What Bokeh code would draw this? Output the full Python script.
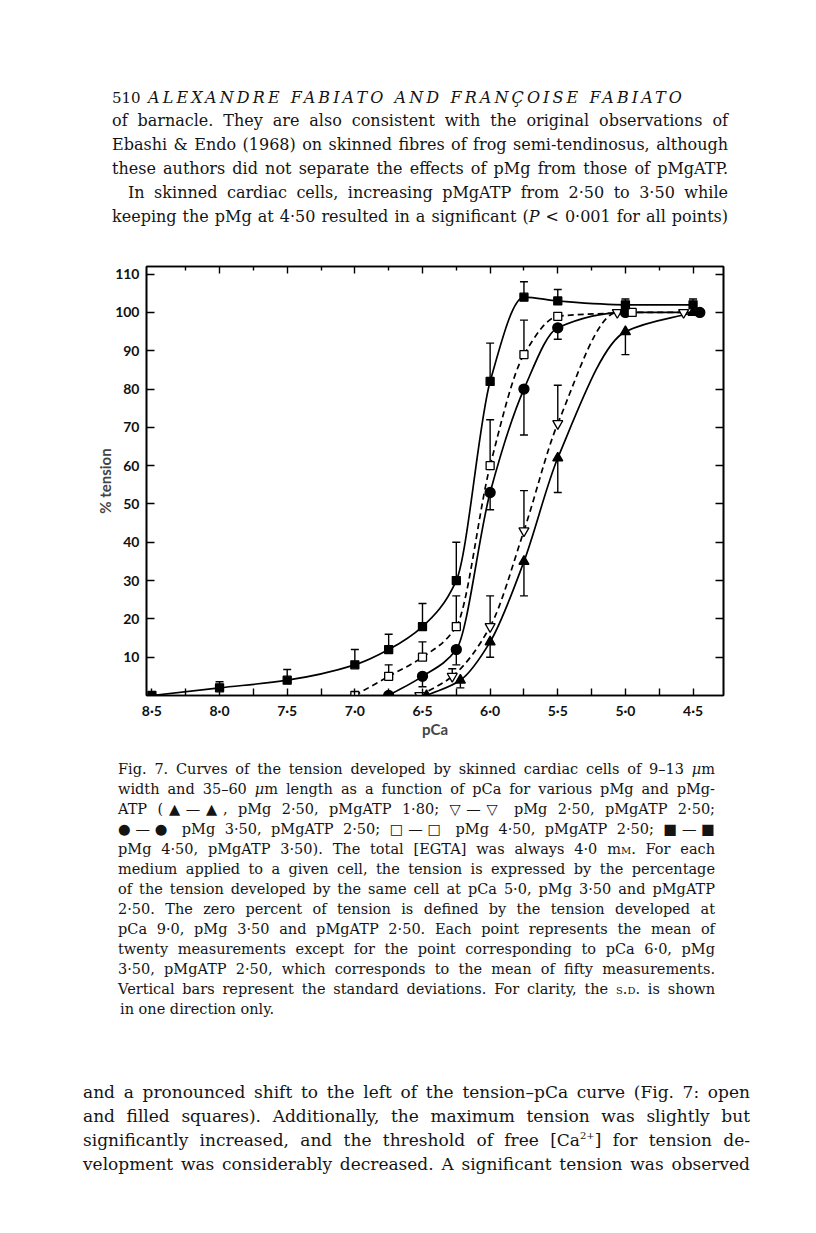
import numpy as np
from bokeh.plotting import figure
from bokeh.models import Range1d, FixedTicker, LinearAxis, CustomJSTickFormatter, Div
from bokeh.layouts import column
from bokeh.embed import file_html
from bokeh.resources import INLINE

nan = float("nan")

# ---------------- data ----------------
# filled triangles: pMg 2.50, pMgATP 1.80  (SD shown downward)
ftri_pca = [6.47, 6.22, 6.0, 5.75, 5.5, 5.0, 4.5]
ftri_t   = [0, 4, 14, 35, 62, 95, 100]
ftri_err = [nan, 2, 10, 26, 53, 89, nan]

# open inverted triangles: pMg 2.50, pMgATP 2.50  (SD upward)
otri_pca = [6.52, 6.28, 6.0, 5.75, 5.5, 5.06, 4.57]
otri_t   = [0, 5, 18, 43, 71, 100, 100]
otri_err = [nan, 7, 26, 53.5, 81, nan, nan]

# filled circles: pMg 3.50, pMgATP 2.50  (SD downward)
fcir_pca = [6.75, 6.5, 6.25, 6.0, 5.75, 5.5, 5.0, 4.45]
fcir_t   = [0, 5, 12, 53, 80, 96, 100, 100]
fcir_err = [nan, 2.3, 8, 48.5, 68, 93, nan, nan]

# open squares: pMg 4.50, pMgATP 2.50  (SD upward)
osq_pca = [7.0, 6.75, 6.5, 6.25, 6.0, 5.75, 5.5, 4.95]
osq_t   = [0, 5, 10, 18, 60, 89, 99, 100]
osq_err = [nan, 8, 14, 26, 72, 98, nan, nan]

# filled squares: pMg 4.50, pMgATP 3.50  (SD upward)
fsq_pca = [8.5, 8.0, 7.5, 7.0, 6.75, 6.5, 6.25, 6.0, 5.75, 5.5, 5.0, 4.5]
fsq_t   = [0, 2, 4, 8, 12, 18, 30, 82, 104, 103, 102, 102]
fsq_err = [nan, 3.6, 6.8, 12, 16, 24, 40, 92, 108, 106, 103.5, 103.5]

x_tick_values = [8.5, 8.0, 7.5, 7.0, 6.5, 6.0, 5.5, 5.0, 4.5]
x_tick_labels = ["8·5", "8·0", "7·5", "7·0", "6·5", "6·0", "5·5", "5·0", "4·5"]
x_minor_values = [8.25, 7.75, 7.25, 6.75, 6.25, 5.75, 5.25, 4.75]
y_tick_values = [10, 20, 30, 40, 50, 60, 70, 80, 90, 100, 110]
y_tick_labels = ["10", "20", "30", "40", "50", "60", "70", "80", "90", "100", "110"]

# ---------------- helpers ----------------
def pchip_bezier(xs, ys):
    x = np.asarray(xs, float)
    y = np.asarray(ys, float)
    h = np.diff(x)
    d = np.diff(y) / h
    n = len(x)
    m = np.zeros(n)
    m[0] = d[0]
    m[-1] = d[-1]
    for k in range(1, n - 1):
        if d[k - 1] * d[k] <= 0:
            m[k] = 0.0
        else:
            w1 = 2 * abs(h[k]) + abs(h[k - 1])
            w2 = abs(h[k]) + 2 * abs(h[k - 1])
            m[k] = (w1 + w2) / (w1 / d[k - 1] + w2 / d[k])
    return dict(x0=x[:-1], y0=y[:-1], x1=x[1:], y1=y[1:],
                cx0=x[:-1] + h / 3, cy0=y[:-1] + m[:-1] * h / 3,
                cx1=x[1:] - h / 3, cy1=y[1:] - m[1:] * h / 3)

def err_segments(xs, ys, es):
    xx, y0, y1 = [], [], []
    for a, b, c in zip(xs, ys, es):
        if not np.isnan(c):
            xx.append(a); y0.append(b); y1.append(c)
    return xx, y0, y1

# ---------------- figure ----------------
p = figure(x_range=Range1d(8.54, 4.275), y_range=Range1d(0, 112),
           frame_width=577, frame_height=429,
           min_border_left=146, min_border_right=77,
           min_border_top=18, min_border_bottom=53,
           output_backend="svg", toolbar_location=None,
           background_fill_color="white", border_fill_color="white")
p.outline_line_color = "black"
p.outline_line_width = 1.6
p.xgrid.visible = False
p.ygrid.visible = False

tick_font = "Lato"
# bottom axis
p.xaxis.ticker = FixedTicker(ticks=x_tick_values, minor_ticks=x_minor_values)
p.xaxis.major_label_overrides = dict(zip(x_tick_values, x_tick_labels))
p.xaxis.major_tick_in = 7
p.xaxis.major_tick_out = 0
p.xaxis.minor_tick_in = 7
p.xaxis.minor_tick_out = 0
p.xaxis.axis_line_width = 1.6
p.xaxis.major_tick_line_width = 1.4
p.xaxis.minor_tick_line_width = 1.4
p.xaxis.major_label_standoff = 6
p.xaxis.major_label_text_font = tick_font
p.xaxis.major_label_text_font_style = "bold"
p.xaxis.major_label_text_font_size = "14px"
p.xaxis.major_label_text_color = "#111111"
p.xaxis.axis_label = "pCa"
p.xaxis.axis_label_text_font = tick_font
p.xaxis.axis_label_text_font_style = "bold"
p.xaxis.axis_label_text_font_size = "15px"
p.xaxis.axis_label_standoff = -2

# left axis
p.yaxis.ticker = FixedTicker(ticks=y_tick_values)
p.yaxis.major_label_overrides = dict(zip(y_tick_values, y_tick_labels))
p.yaxis.major_tick_in = 8
p.yaxis.major_tick_out = 0
p.yaxis.minor_tick_in = 0
p.yaxis.minor_tick_out = 0
p.yaxis.axis_line_width = 1.6
p.yaxis.major_tick_line_width = 1.4
p.yaxis.major_label_standoff = 7
p.yaxis.major_label_text_font = tick_font
p.yaxis.major_label_text_font_style = "bold"
p.yaxis.major_label_text_font_size = "14px"
p.yaxis.major_label_text_color = "#111111"
p.yaxis.axis_label = "% tension"
p.yaxis.axis_label_text_font = tick_font
p.yaxis.axis_label_text_font_style = "bold"
p.yaxis.axis_label_text_font_size = "15px"
p.yaxis.axis_label_standoff = -2

blank = CustomJSTickFormatter(code="return '';")
right_axis = LinearAxis(ticker=FixedTicker(ticks=y_tick_values), formatter=blank,
                        major_tick_in=8, major_tick_out=0, minor_tick_in=0, minor_tick_out=0,
                        axis_line_width=1.6, major_tick_line_width=1.4)
p.add_layout(right_axis, "right")
top_axis = LinearAxis(ticker=FixedTicker(ticks=x_tick_values[1:], minor_ticks=x_minor_values),
                      formatter=blank, major_tick_in=7, major_tick_out=0,
                      minor_tick_in=4, minor_tick_out=0,
                      axis_line_width=1.6, major_tick_line_width=1.4, minor_tick_line_width=1.4)
p.add_layout(top_axis, "above")

series = [
    (ftri_pca, ftri_t, ftri_err, None, "triangle", "black", 10),
    (otri_pca, otri_t, otri_err, "6 4", "inverted_triangle", "white", 10),
    (fcir_pca, fcir_t, fcir_err, None, "circle", "black", 10),
    (osq_pca, osq_t, osq_err, "6 4", "square", "white", 8),
    (fsq_pca, fsq_t, fsq_err, None, "square", "black", 8),
]

# curves
for xs, ys, es, dash, mk, fill, sz in series:
    b = pchip_bezier(xs, ys)
    kw = dict(line_color="black", line_width=1.7)
    if dash:
        kw["line_dash"] = dash
    p.bezier(x0=b["x0"], y0=b["y0"], x1=b["x1"], y1=b["y1"],
             cx0=b["cx0"], cy0=b["cy0"], cx1=b["cx1"], cy1=b["cy1"], **kw)

# error bars
for xs, ys, es, dash, mk, fill, sz in series:
    ex, ey0, ey1 = err_segments(xs, ys, es)
    p.segment(x0=ex, y0=ey0, x1=ex, y1=ey1, line_color="black", line_width=1.4)
    p.scatter(x=ex, y=ey1, marker="dash", size=8, line_color="black", line_width=1.4)

# markers
for xs, ys, es, dash, mk, fill, sz in series:
    p.scatter(x=xs, y=ys, marker=mk, size=sz, fill_color=fill,
              line_color="black", line_width=1.3)

# ---------------- text blocks ----------------
def line(text, left, top, width, size, lh, justify=True, extra=""):
    ta = ("text-align:justify;text-align-last:justify;text-justify:inter-word;"
          if justify else "text-align:left;")
    return (f'<div style="position:absolute;left:{left}px;top:{top}px;width:{width}px;'
            f'font-size:{size}px;line-height:{lh}px;{ta}{extra}">{text}</div>')

SERIF = "font-family:'DejaVu Serif',serif;color:#141414;"
sc = lambda t: f'<span style="font-variant:small-caps">{t}</span>'

top_html = [f'<div style="position:relative;width:800px;height:238px;{SERIF}">']
top_html.append(line("510", 107, 81, 40, 15, 24, justify=False))
top_html.append(line("<i>ALEXANDRE FABIATO AND FRANÇOISE FABIATO</i>", 143, 81, 560, 16, 24,
                     justify=False, extra="letter-spacing:3.1px;white-space:nowrap;"))
body_top = [
    ("of barnacle. They are also consistent with the original observations of", 107, 616),
    ("Ebashi &amp; Endo (1968) on skinned fibres of frog semi-tendinosus, although", 107, 616),
    ("these authors did not separate the effects of pMg from those of pMgATP.", 107, 616),
    ("In skinned cardiac cells, increasing pMgATP from 2·50 to 3·50 while", 123, 600),
    ("keeping the pMg at 4·50 resulted in a significant (<i>P</i> &lt; 0·001 for all points)", 107, 616),
]
for i, (t, l, w) in enumerate(body_top):
    top_html.append(line(t, l, 104 + 24 * i, w, 16, 24))
top_html.append("</div>")
top_div = Div(text="".join(top_html), width=800, height=238)

cap = [
    "Fig. 7. Curves of the tension developed by skinned cardiac cells of 9–13 <i>μ</i>m",
    "width and 35–60 <i>μ</i>m length as a function of pCa for various pMg and pMg-",
    "ATP (▲—▲, pMg 2·50, pMgATP 1·80; ▽—▽ pMg 2·50, pMgATP 2·50;",
    "●—● pMg 3·50, pMgATP 2·50; □—□ pMg 4·50, pMgATP 2·50; ■—■",
    "pMg 4·50, pMgATP 3·50). The total [EGTA] was always 4·0 m" + sc("m") + ". For each",
    "medium applied to a given cell, the tension is expressed by the percentage",
    "of the tension developed by the same cell at pCa 5·0, pMg 3·50 and pMgATP",
    "2·50. The zero percent of tension is defined by the tension developed at",
    "pCa 9·0, pMg 3·50 and pMgATP 2·50. Each point represents the mean of",
    "twenty measurements except for the point corresponding to pCa 6·0, pMg",
    "3·50, pMgATP 2·50, which corresponds to the mean of fifty measurements.",
    "Vertical bars represent the standard deviations. For clarity, the " + sc("s.d.") + " is shown",
]
bot_html = [f'<div style="position:relative;width:800px;height:477px;{SERIF}">']
for i, t in enumerate(cap):
    bot_html.append(line(t, 113, 6 + 20 * i, 597, 14.5, 20))
bot_html.append(line("in one direction only.", 115, 6 + 20 * len(cap), 597, 14.5, 20, justify=False))
body_bot = [
    "and a pronounced shift to the left of the tension–pCa curve (Fig. 7: open",
    "and filled squares). Additionally, the maximum tension was slightly but",
    "significantly increased, and the threshold of free [Ca<sup style=\"font-size:10px;line-height:0\">2+</sup>] for tension de-",
    "velopment was considerably decreased. A significant tension was observed",
]
for i, t in enumerate(body_bot):
    bot_html.append(line(t, 78, 327 + 24 * i, 667, 17, 24))
bot_html.append("</div>")
bot_div = Div(text="".join(bot_html), width=800, height=477)

layout = column(top_div, p, bot_div, spacing=0)
open("out.html", "w").write(file_html(layout, INLINE))
